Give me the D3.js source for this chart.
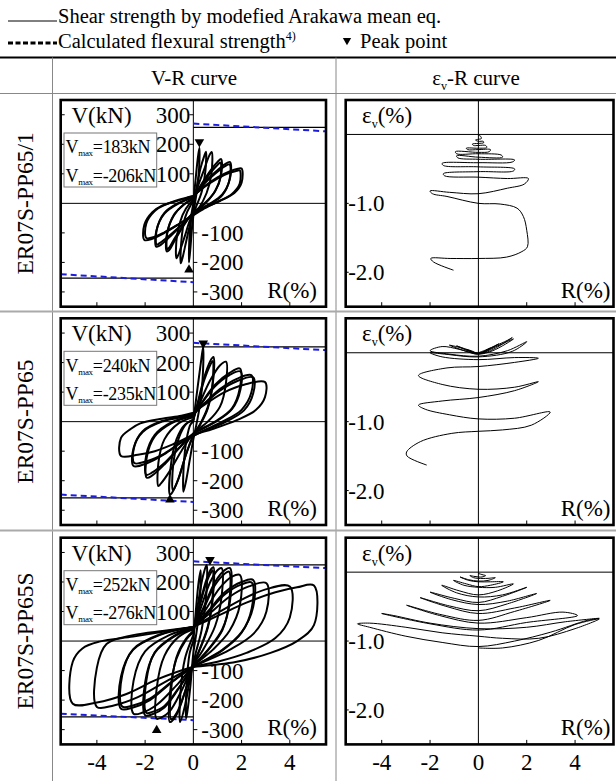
<!DOCTYPE html>
<html><head><meta charset="utf-8">
<script src="https://cdn.jsdelivr.net/npm/d3@7"></script>
<style>
body{margin:0;background:#fff}
svg{display:block}
text{font-family:"Liberation Serif","Times New Roman",Times,serif;fill:#000}
</style>
</head><body>
<svg id="c" width="616" height="781" font-family="Liberation Serif, Times New Roman, serif"></svg>
<script>
// ---------------- DATA ----------------
const rowLabels = ["ER07S-PP65/1", "ER07S-PP65", "ER07S-PP65S"];
const vmaxPos = ["183kN", "240kN", "252kN"];
const vmaxNeg = ["-206kN", "-235kN", "-276kN"];
const shearPos = [257, 253, 258];
const shearNeg = [-253, -258, -257];
const flexPos = [[270, 244], [267, 242], [270, 247]];      // V at R=0, V at right edge
const flexNeg = [[-240, -267], [-247, -272], [-246, -268]]; // V at left edge, V at R=0
const peakDown = [[0.25, 208], [0.41, 265], [0.69, 275]];
const peakUp = [[-0.18, -225], [-0.97, -264], [-1.52, -302]];
const vTicks = [-300, -200, -100, 100, 200, 300];
const rTicks = [-4, -2, 2, 4];
const rTickLabels = [-4, -2, 0, 2, 4];
const evTicks = [-1.0, -2.0];

const vr1Loops = [
 [[0,0],[0.08,70],[0.18,150],[0.25,188],[0.24,120],[0.15,45],[0.05,-10],[-0.05,-80],[-0.12,-150],[-0.18,-200],[-0.17,-130],[-0.1,-50],[0,0]],
 [[0,5],[0.15,60],[0.3,120],[0.45,160],[0.52,175],[0.5,110],[0.35,40],[0.1,-15],[-0.1,-60],[-0.3,-130],[-0.45,-185],[-0.52,-203],[-0.5,-130],[-0.35,-50],[-0.1,-5],[0,5]],
 [[0,10],[0.2,60],[0.45,115],[0.65,160],[0.76,174],[0.75,100],[0.55,35],[0.2,-20],[-0.1,-50],[-0.35,-110],[-0.6,-170],[-0.7,-186],[-0.68,-110],[-0.45,-40],[-0.15,0],[0,10]],
 [[0,15],[0.3,60],[0.7,110],[1.0,140],[1.15,150],[1.15,95],[0.9,40],[0.4,-5],[0,-30],[-0.4,-75],[-0.8,-130],[-1.0,-158],[-1.1,-163],[-1.1,-105],[-0.8,-40],[-0.4,-5],[0,15]],
 [[0,18],[0.3,55],[0.7,102],[1.0,130],[1.12,138],[1.12,88],[0.85,35],[0.4,-8],[0,-32],[-0.4,-72],[-0.8,-122],[-1.0,-150],[-1.08,-155],[-1.08,-100],[-0.8,-38],[-0.4,-4],[0,18]],
 [[0,20],[0.4,65],[0.9,105],[1.3,132],[1.52,140],[1.52,85],[1.2,30],[0.6,-5],[0,-35],[-0.5,-75],[-1.0,-115],[-1.4,-143],[-1.54,-147],[-1.54,-95],[-1.2,-35],[-0.6,0],[0,20]],
 [[0,22],[0.4,62],[0.9,100],[1.3,125],[1.5,132],[1.5,80],[1.2,28],[0.6,-8],[0,-36],[-0.5,-74],[-1.0,-110],[-1.4,-135],[-1.52,-140],[-1.52,-90],[-1.2,-32],[-0.6,2],[0,22]],
 [[0,25],[0.5,60],[1.0,88],[1.5,108],[1.85,117],[2.0,118],[2.0,70],[1.7,35],[1.1,8],[0.4,-18],[0,-38],[-0.6,-70],[-1.2,-100],[-1.7,-120],[-2.03,-124],[-2.03,-72],[-1.7,-30],[-1.3,-8],[-0.6,10],[0,25]],
 [[0,25],[0.5,58],[1.0,84],[1.5,103],[1.8,110],[1.92,112],[1.92,66],[1.6,32],[1.0,5],[0.4,-20],[0,-40],[-0.6,-70],[-1.2,-98],[-1.6,-113],[-1.95,-117],[-1.95,-68],[-1.6,-26],[-1.2,-6],[-0.6,12],[0,25]]
];

const vr2Loops = [
 [[0,0],[0.12,80],[0.28,180],[0.38,240],[0.41,252],[0.4,170],[0.3,70],[0.15,0],[0,-60],[-0.15,-130],[-0.3,-200],[-0.41,-237],[-0.4,-150],[-0.28,-60],[-0.12,-10],[0,0]],
 [[0,5],[0.2,70],[0.45,150],[0.7,205],[0.83,219],[0.82,140],[0.6,50],[0.3,-5],[0,-45],[-0.3,-110],[-0.65,-200],[-0.9,-243],[-0.97,-247],[-0.95,-160],[-0.7,-60],[-0.35,-10],[0,5]],
 [[0,8],[0.2,65],[0.45,140],[0.7,192],[0.8,205],[0.8,130],[0.6,45],[0.3,-8],[0,-48],[-0.3,-110],[-0.6,-190],[-0.8,-228],[-0.85,-232],[-0.84,-150],[-0.6,-55],[-0.3,-8],[0,8]],
 [[0,15],[0.3,70],[0.7,140],[1.1,190],[1.35,203],[1.35,130],[1.1,50],[0.6,0],[0,-40],[-0.5,-100],[-1.0,-170],[-1.35,-210],[-1.45,-218],[-1.45,-140],[-1.2,-60],[-0.6,-5],[0,15]],
 [[0,20],[0.4,70],[0.9,125],[1.5,165],[1.93,180],[1.93,115],[1.6,45],[0.9,0],[0,-40],[-0.6,-90],[-1.2,-145],[-1.7,-182],[-1.93,-190],[-1.93,-120],[-1.6,-50],[-0.9,-5],[0,20]],
 [[0,22],[0.4,68],[0.9,120],[1.5,158],[1.95,170],[1.95,108],[1.6,42],[0.9,-2],[0,-42],[-0.6,-90],[-1.2,-140],[-1.7,-172],[-1.95,-180],[-1.95,-112],[-1.6,-45],[-0.9,-2],[0,22]],
 [[0,25],[0.5,65],[1.1,110],[1.8,145],[2.41,157],[2.41,100],[2.0,40],[1.2,0],[0.3,-35],[-0.5,-70],[-1.2,-110],[-1.9,-140],[-2.48,-150],[-2.48,-90],[-2.1,-35],[-1.3,0],[-0.5,15],[0,25]],
 [[0,27],[0.5,63],[1.1,105],[1.8,137],[2.48,150],[2.48,95],[2.1,38],[1.3,-2],[0.3,-36],[-0.5,-70],[-1.2,-108],[-1.9,-133],[-2.45,-140],[-2.45,-85],[-2.1,-32],[-1.3,2],[-0.5,17],[0,27]],
 [[0,30],[0.6,65],[1.3,100],[2.1,125],[2.97,134],[2.97,83],[2.6,40],[1.8,5],[0.8,-25],[0,-45],[-0.8,-75],[-1.6,-100],[-2.3,-112],[-3.0,-116],[-3.0,-55],[-2.6,-25],[-2.2,-6],[-1.3,10],[-0.5,20],[0,30]]
];

const vr3Loops = [
 [[0,0],[0.1,100],[0.22,200],[0.3,240],[0.28,150],[0.15,40],[0,-40],[-0.12,-150],[-0.25,-240],[-0.3,-262],[-0.28,-150],[-0.15,-40],[0,0]],
 [[0,20],[0.2,130],[0.4,220],[0.55,258],[0.54,160],[0.35,40],[0.1,-40],[-0.1,-110],[-0.35,-220],[-0.55,-274],[-0.53,-170],[-0.35,-60],[-0.1,0],[0,20]],
 [[0,30],[0.25,120],[0.55,210],[0.75,245],[0.83,250],[0.82,160],[0.6,50],[0.2,-40],[0,-75],[-0.3,-160],[-0.7,-250],[-0.97,-274],[-0.96,-170],[-0.7,-60],[-0.3,5],[0,30]],
 [[0,35],[0.25,115],[0.55,200],[0.75,235],[0.8,240],[0.8,150],[0.6,45],[0.2,-42],[0,-78],[-0.3,-160],[-0.7,-245],[-0.92,-265],[-0.92,-165],[-0.7,-55],[-0.3,8],[0,35]],
 [[0,40],[0.3,110],[0.7,200],[1.0,240],[1.17,247],[1.17,150],[0.9,50],[0.4,-30],[0,-80],[-0.5,-170],[-1.0,-240],[-1.35,-260],[-1.52,-263],[-1.52,-160],[-1.2,-50],[-0.6,15],[0,40]],
 [[0,45],[0.4,110],[0.9,200],[1.3,240],[1.52,247],[1.52,135],[1.2,40],[0.6,-30],[0,-85],[-0.6,-160],[-1.2,-225],[-1.7,-248],[-2.0,-251],[-2.0,-140],[-1.6,-40],[-0.8,15],[0,45]],
 [[0,45],[0.4,105],[0.9,190],[1.3,228],[1.48,235],[1.48,128],[1.2,36],[0.6,-32],[0,-86],[-0.6,-158],[-1.2,-220],[-1.7,-240],[-1.95,-243],[-1.95,-135],[-1.6,-38],[-0.8,18],[0,45]],
 [[0,45],[0.5,105],[1.1,180],[1.6,218],[1.93,224],[1.93,122],[1.5,35],[0.8,-30],[0,-85],[-0.7,-150],[-1.5,-215],[-2.1,-242],[-2.48,-246],[-2.48,-135],[-2.0,-35],[-1.0,20],[0,45]],
 [[0,48],[0.6,100],[1.3,165],[2.0,200],[2.48,207],[2.48,115],[2.0,30],[1.2,-30],[0,-87],[-0.9,-140],[-1.8,-200],[-2.5,-225],[-3.0,-229],[-3.0,-120],[-2.5,-30],[-1.4,20],[0,48]],
 [[0,48],[0.6,96],[1.3,158],[2.0,192],[2.42,198],[2.42,110],[2.0,28],[1.2,-32],[0,-87],[-0.9,-138],[-1.8,-195],[-2.5,-218],[-2.95,-222],[-2.95,-115],[-2.5,-28],[-1.4,22],[0,48]],
 [[0,48],[0.7,95],[1.5,150],[2.3,185],[3.03,196],[3.03,100],[2.5,25],[1.5,-30],[0,-87],[-1.2,-140],[-2.3,-190],[-3.3,-218],[-4.0,-223],[-4.0,-90],[-3.6,-10],[-2.5,20],[-1.2,35],[0,48]],
 [[0,48],[0.9,90],[2.0,140],[3.0,175],[4.0,185],[4.0,80],[3.4,10],[2.2,-40],[1.0,-70],[0,-87],[-1.5,-130],[-2.8,-180],[-4.0,-208],[-5.0,-212],[-5.0,-70],[-4.6,-25],[-3.9,-2],[-2.5,15],[-1.2,32],[0,48]],
 [[0,48],[1.0,85],[2.2,130],[3.4,165],[4.3,182],[5.0,188],[5.0,54],[4.3,0],[3.2,-40],[1.8,-70],[0,-87]]
];

const ev1Path = [[0,-0.01],[0.1,-0.03],[0.12,-0.06],[0,-0.07],[-0.12,-0.08],[0,-0.1],[0.2,-0.1],[0.22,-0.12],[0,-0.13],[-0.25,-0.14],[-0.2,-0.16],[0,-0.16],[0.3,-0.16],[0.35,-0.19],[0,-0.2],[-0.5,-0.2],[-0.45,-0.22],[0,-0.22],[0.5,-0.22],[0.45,-0.25],[0,-0.26],[-0.95,-0.25],[-0.9,-0.28],[0,-0.28],[0.95,-0.3],[1.0,-0.33],[0,-0.33],[-0.9,-0.31],[-0.85,-0.34],[0,-0.36],[1.5,-0.37],[1.4,-0.4],[0,-0.41],[-1.5,-0.42],[-1.45,-0.45],[0,-0.47],[1.5,-0.5],[1.45,-0.53],[0,-0.54],[-1.45,-0.57],[-1.4,-0.6],[0,-0.62],[1.2,-0.64],[2.07,-0.64],[1.9,-0.72],[1.2,-0.78],[0,-0.86],[-1.2,-0.84],[-2.0,-0.82],[-1.9,-0.86],[-1.3,-0.9],[0,-1.0],[0.9,-1.01],[1.6,-1.07],[1.86,-1.19],[2.0,-1.39],[2.03,-1.63],[1.8,-1.7],[1.17,-1.78],[0,-1.8],[-1.17,-1.8],[-1.97,-1.8],[-1.86,-1.85],[-1.03,-1.97]];

const ev2Path = [[0,0],[0.3,0.04],[0.5,0.07],[0.2,0.01],[0,-0.01],[-0.3,0.03],[-0.5,0.05],[-0.2,0.0],[0,-0.01],[0.5,0.07],[0.85,0.13],[0.3,0.02],[0,-0.01],[-0.5,0.05],[-0.9,0.1],[-0.3,0.01],[0,-0.01],[0.7,0.1],[1.2,0.18],[1.4,0.22],[0.5,0.03],[0,-0.01],[-0.7,0.07],[-1.2,0.11],[-0.4,0.01],[0,-0.02],[0.8,0.1],[1.45,0.2],[0.6,0.03],[0,-0.02],[-0.8,0.05],[-1.5,0.09],[-2.0,0.03],[-1.2,-0.02],[0,-0.05],[1.2,0.03],[2.0,0.16],[1.4,0.02],[0,-0.06],[-1.4,-0.02],[-2.0,0.0],[-1.5,-0.06],[0,-0.1],[1.5,-0.07],[2.48,-0.08],[1.5,-0.14],[0,-0.2],[-1.3,-0.22],[-2.48,-0.33],[-1.5,-0.46],[0,-0.53],[1.5,-0.5],[2.48,-0.42],[1.5,-0.55],[0,-0.65],[-1.5,-0.7],[-2.48,-0.76],[-2.2,-0.82],[-1.2,-0.9],[0,-0.96],[1.5,-0.95],[2.97,-0.86],[2.2,-1.05],[1.0,-1.12],[0,-1.14],[-1.1,-1.17],[-2.4,-1.29],[-2.97,-1.44],[-2.95,-1.5],[-2.14,-1.63]];

const ev3Path = [[0,-0.02],[0.2,-0.04],[0.3,-0.05],[0.15,-0.07],[0,-0.07],[-0.2,-0.06],[-0.35,-0.05],[-0.2,-0.08],[0,-0.09],[0.4,-0.09],[0.7,-0.08],[0.4,-0.12],[0,-0.13],[-0.4,-0.11],[-0.76,-0.07],[-0.4,-0.12],[0,-0.14],[0.5,-0.14],[1.03,-0.14],[0.5,-0.19],[0,-0.21],[-0.5,-0.17],[-1.03,-0.12],[-0.6,-0.19],[0,-0.22],[0.7,-0.22],[1.45,-0.17],[0.8,-0.27],[0,-0.33],[-0.8,-0.27],[-1.52,-0.19],[-0.9,-0.3],[0,-0.36],[1.0,-0.33],[2.0,-0.22],[1.0,-0.35],[0,-0.44],[-1.0,-0.38],[-2.0,-0.29],[-1.1,-0.4],[0,-0.47],[1.2,-0.42],[2.41,-0.31],[1.2,-0.46],[0,-0.56],[-1.2,-0.49],[-2.41,-0.37],[-1.3,-0.5],[0,-0.6],[1.5,-0.52],[2.97,-0.41],[1.5,-0.57],[0,-0.7],[-1.5,-0.62],[-2.97,-0.48],[-1.6,-0.63],[0,-0.74],[2.0,-0.66],[3.5,-0.58],[4.1,-0.63],[2.0,-0.73],[0,-0.84],[-2.0,-0.75],[-4.0,-0.6],[-3.5,-0.63],[-2.0,-0.74],[0,-0.82],[2.0,-0.8],[3.6,-0.72],[5.0,-0.67],[4.5,-0.7],[3.0,-0.87],[1.5,-1.0],[0,-1.08],[-1.5,-1.02],[-3.0,-0.93],[-4.5,-0.8],[-5.0,-0.75],[-4.5,-0.74],[-3.0,-0.8],[-1.5,-0.88],[0,-0.93],[1.0,-0.96],[2.5,-0.96],[4.0,-0.82],[5.0,-0.68],[4.0,-0.76],[2.5,-0.99],[1.0,-1.1],[0,-1.1]];

const vrData = [vr1Loops, vr2Loops, vr3Loops];
const evData = [ev1Path, ev2Path, ev3Path];

// ---------------- LAYOUT ----------------
const FF = "Liberation Serif, Times New Roman, serif";
const svg = d3.select("#c");
const W = 616, H = 781;
const rowTop = [100, 318.3, 537.7];
const panelH = 206.7;
const vrX = [60.7, 326];
const evX = [345.7, 613.5];
const font = 23;
const txt = (sel) => sel.append("text").attr("font-family", FF);

const xVR = d3.scaleLinear().domain([-5.5, 5.5]).range(vrX);
const xEV = d3.scaleLinear().domain([-5.49, 5.59]).range(evX);

// table lines
svg.append("line").attr("x1",0).attr("x2",W).attr("y1",57.5).attr("y2",57.5).attr("stroke","#000").attr("stroke-width",2.2);
svg.append("line").attr("x1",0).attr("x2",W).attr("y1",93.5).attr("y2",93.5).attr("stroke","#888").attr("stroke-width",1);
[52.5, 336].forEach(x => svg.append("line").attr("x1",x).attr("x2",x).attr("y1",57.5).attr("y2",H).attr("stroke","#888").attr("stroke-width",1));
[311.5, 530.5].forEach(y => svg.append("line").attr("x1",0).attr("x2",W).attr("y1",y).attr("y2",y).attr("stroke","#aaa").attr("stroke-width",2.2));

// legend
svg.append("line").attr("x1",8).attr("x2",57).attr("y1",21).attr("y2",21).attr("stroke","#000").attr("stroke-width",1);
txt(svg).attr("x",58).attr("y",23).attr("font-size",20.5).text("Shear strength by modefied Arakawa mean eq.");
svg.append("line").attr("x1",8).attr("x2",57).attr("y1",43).attr("y2",43).attr("stroke","#000").attr("stroke-width",3).attr("stroke-dasharray","5,2.5");
const t2 = txt(svg).attr("x",58).attr("y",47.5).attr("font-size",20.5);
t2.append("tspan").text("Calculated flexural strength");
t2.append("tspan").attr("font-size",12).attr("dy",-8).text("4)");
svg.append("path").attr("d", d3.symbol(d3.symbolTriangle).size(30)()).attr("transform","translate(347,40.5) rotate(180)").attr("fill","#000");
txt(svg).attr("x",360).attr("y",47.5).attr("font-size",20.5).text("Peak point");

// headers
txt(svg).attr("x",194).attr("y",85).attr("font-size",21).attr("text-anchor","middle").text("V-R curve");
const h2 = txt(svg).attr("x",476).attr("y",85).attr("font-size",21).attr("text-anchor","middle");
h2.append("tspan").text("ε");
h2.append("tspan").attr("font-size",12).attr("dy",5).text("v");
h2.append("tspan").attr("dy",-5).text("-R curve");

const lineVR = (y) => d3.line().x(d => xVR(d[0])).y(d => y(d[1])).curve(d3.curveCatmullRom.alpha(0.5));

rowTop.forEach((top, i) => {
  const bot = top + panelH;
  const yVR = d3.scaleLinear().domain([-350, 350]).range([bot, top]);
  const yEV = d3.scaleLinear().domain([-2.5, 0.5]).range([bot, top]);

  // row label
  txt(svg).attr("transform", `translate(33,${(top+bot)/2}) rotate(-90)`)
    .attr("font-size",23.5).attr("text-anchor","middle").text(rowLabels[i]);

  // ===== V-R panel =====
  const gv = svg.append("g");
  const cid = "clipv" + i;
  svg.append("clipPath").attr("id",cid).append("rect").attr("x",vrX[0]).attr("y",top).attr("width",vrX[1]-vrX[0]).attr("height",panelH);
  const x0 = xVR(0), y0 = yVR(0);
  gv.append("line").attr("x1",vrX[0]).attr("x2",vrX[1]).attr("y1",y0).attr("y2",y0).attr("stroke","#000").attr("stroke-width",1);
  gv.append("line").attr("x1",x0).attr("x2",x0).attr("y1",top).attr("y2",bot).attr("stroke","#000").attr("stroke-width",1);
  gv.append("line").attr("x1",x0).attr("x2",vrX[1]).attr("y1",yVR(shearPos[i])).attr("y2",yVR(shearPos[i])).attr("stroke","#000").attr("stroke-width",1.2);
  gv.append("line").attr("x1",vrX[0]).attr("x2",x0).attr("y1",yVR(shearNeg[i])).attr("y2",yVR(shearNeg[i])).attr("stroke","#000").attr("stroke-width",1.2);
  gv.append("line").attr("x1",x0).attr("x2",vrX[1]).attr("y1",yVR(flexPos[i][0])).attr("y2",yVR(flexPos[i][1]))
    .attr("stroke","#1c1ce0").attr("stroke-width",2).attr("stroke-dasharray","6,4");
  gv.append("line").attr("x1",vrX[0]).attr("x2",x0).attr("y1",yVR(flexNeg[i][0])).attr("y2",yVR(flexNeg[i][1]))
    .attr("stroke","#1c1ce0").attr("stroke-width",2).attr("stroke-dasharray","6,4");
  vTicks.forEach(v => {
    const y = yVR(v);
    gv.append("line").attr("x1",vrX[0]).attr("x2",vrX[0]+4).attr("y1",y).attr("y2",y).attr("stroke","#000").attr("stroke-width",1);
    if (v > 0) gv.append("line").attr("x1",x0-4).attr("x2",x0).attr("y1",y).attr("y2",y).attr("stroke","#000").attr("stroke-width",1);
    else gv.append("line").attr("x1",x0).attr("x2",x0+4).attr("y1",y).attr("y2",y).attr("stroke","#000").attr("stroke-width",1);
  });
  rTicks.forEach(r => gv.append("line").attr("x1",xVR(r)).attr("x2",xVR(r)).attr("y1",bot).attr("y2",bot-4.5).attr("stroke","#000").attr("stroke-width",1));
  gv.append("g").attr("clip-path",`url(#${cid})`).selectAll("path").data(vrData[i]).join("path")
    .attr("d", lineVR(yVR)).attr("fill","none").attr("stroke","#000").attr("stroke-width",2).attr("stroke-linejoin","round");
  gv.append("path").attr("d", d3.symbol(d3.symbolTriangle).size(40)())
    .attr("transform",`translate(${xVR(peakDown[i][0])},${yVR(peakDown[i][1])}) rotate(180)`).attr("fill","#000");
  gv.append("path").attr("d", d3.symbol(d3.symbolTriangle).size(40)())
    .attr("transform",`translate(${xVR(peakUp[i][0])},${yVR(peakUp[i][1])})`).attr("fill","#000");
  vTicks.forEach(v => {
    const t = txt(gv).attr("y", yVR(v)).attr("dy","0.35em").attr("font-size",font).text(v);
    if (v > 0) t.attr("x", x0-3).attr("text-anchor","end");
    else t.attr("x", x0+8);
  });
  txt(gv).attr("x",71.5).attr("y",top+23).attr("font-size",font).text("V(kN)");
  txt(gv).attr("x",vrX[1]-9).attr("y",bot-9).attr("font-size",font).attr("text-anchor","end").text("R(%)");
  // Vmax box
  gv.append("rect").attr("x",64).attr("y",top+33).attr("width",92.7).attr("height",54).attr("fill","#fff").attr("stroke","#777").attr("stroke-width",1);
  [[vmaxPos[i], 53.3], [vmaxNeg[i], 81.7]].forEach(([s, dy]) => {
    const t = txt(gv).attr("x",65.5).attr("y",top+dy).attr("font-size",18).attr("letter-spacing",-0.3);
    t.append("tspan").text("V");
    t.append("tspan").attr("font-size",9).attr("dy",3).text("max");
    t.append("tspan").attr("dy",-3).text("=" + s);
  });
  gv.append("rect").attr("x",vrX[0]).attr("y",top).attr("width",vrX[1]-vrX[0]).attr("height",panelH).attr("fill","none").attr("stroke","#000").attr("stroke-width",2.6);

  // ===== ev-R panel =====
  const ge = svg.append("g");
  const cide = "clipe" + i;
  svg.append("clipPath").attr("id",cide).append("rect").attr("x",evX[0]).attr("y",top).attr("width",evX[1]-evX[0]).attr("height",panelH);
  const ex0 = xEV(0), ey0 = yEV(0);
  ge.append("line").attr("x1",evX[0]).attr("x2",evX[1]).attr("y1",ey0).attr("y2",ey0).attr("stroke","#000").attr("stroke-width",1);
  ge.append("line").attr("x1",ex0).attr("x2",ex0).attr("y1",top).attr("y2",bot).attr("stroke","#000").attr("stroke-width",1);
  evTicks.forEach(v => {
    ge.append("line").attr("x1",evX[0]).attr("x2",evX[0]+3).attr("y1",yEV(v)).attr("y2",yEV(v)).attr("stroke","#000").attr("stroke-width",1);
    txt(ge).attr("x",evX[0]+2.5).attr("y",yEV(v)).attr("dy","0.35em").attr("font-size",font).text(v.toFixed(1));
  });
  rTicks.forEach(r => ge.append("line").attr("x1",xEV(r)).attr("x2",xEV(r)).attr("y1",bot).attr("y2",bot-4.5).attr("stroke","#000").attr("stroke-width",1));
  ge.append("g").attr("clip-path",`url(#${cide})`).append("path").datum(evData[i])
    .attr("d", d3.line().x(d => xEV(d[0])).y(d => yEV(d[1])).curve(d3.curveCatmullRom.alpha(0.5)))
    .attr("fill","none").attr("stroke","#000").attr("stroke-width",1);
  const el = txt(ge).attr("x",362).attr("y",top+23).attr("font-size",font);
  el.append("tspan").text("ε");
  el.append("tspan").attr("font-size",12).attr("dy",5).text("v");
  el.append("tspan").attr("dy",-5).text("(%)");
  txt(ge).attr("x",evX[1]-3).attr("y",bot-9).attr("font-size",font).attr("text-anchor","end").text("R(%)");
  ge.append("rect").attr("x",evX[0]).attr("y",top).attr("width",evX[1]-evX[0]).attr("height",panelH).attr("fill","none").attr("stroke","#000").attr("stroke-width",2.6);

  if (i === 2) {
    rTickLabels.forEach(r => {
      txt(svg).attr("x",xVR(r)).attr("y",770).attr("font-size",font).attr("text-anchor","middle").text(r);
      txt(svg).attr("x",xEV(r)).attr("y",770).attr("font-size",font).attr("text-anchor","middle").text(r);
    });
  }
});
</script>
</body></html>
